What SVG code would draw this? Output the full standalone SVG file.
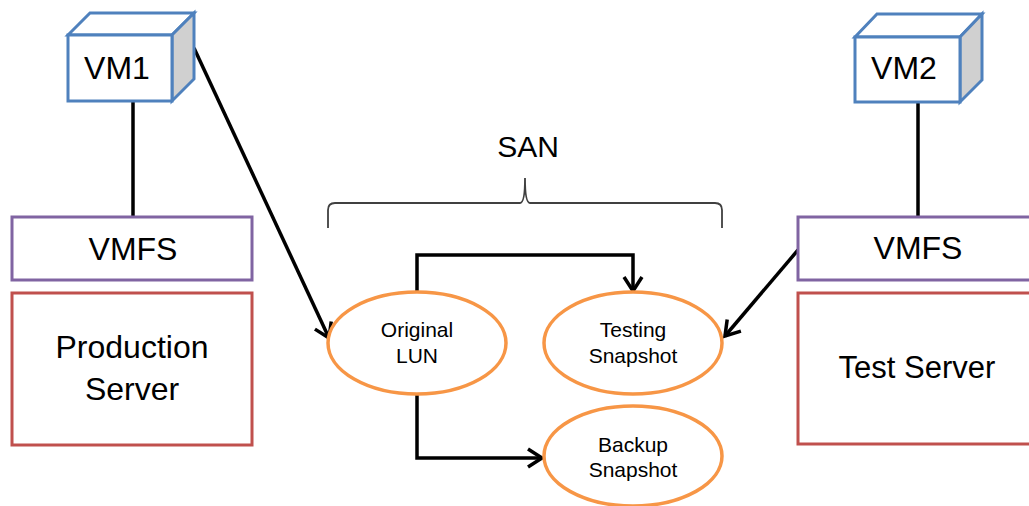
<svg xmlns="http://www.w3.org/2000/svg" width="1029" height="506" viewBox="0 0 1029 506">
<style>
.t{font-family:"Liberation Sans",Arial,sans-serif;fill:#000;text-anchor:middle}
.big{font-size:32px}
.sm{font-size:21px}
.vm{fill:#fff;stroke:#4f81bd;stroke-width:3;stroke-linejoin:miter}
.side{fill:#d0d0d0;stroke:#4f81bd;stroke-width:3}
.vmfs{fill:#fff;stroke:#8064a2;stroke-width:3}
.srv{fill:#fff;stroke:#c0504d;stroke-width:3}
.lun{fill:#fff;stroke:#f79646;stroke-width:3.5}
.c{fill:none;stroke:#000;stroke-width:3.5}
</style>
<defs>
<marker id="arr" markerUnits="userSpaceOnUse" markerWidth="24" markerHeight="24" viewBox="0 0 24 24" refX="16" refY="10" orient="auto" overflow="visible">
<path d="M2,1 L16,10 L2,19" fill="none" stroke="#000" stroke-width="3.5"/>
</marker>
</defs>
<rect width="1029" height="506" fill="#fff"/>
<g id="connectors">
<line class="c" x1="133" y1="101" x2="133" y2="217"/>
<line class="c" x1="918" y1="102" x2="918" y2="217"/>
<line class="c" x1="194" y1="48" x2="329" y2="338" marker-end="url(#arr)"/>
<line class="c" x1="798" y1="250" x2="725" y2="336" marker-end="url(#arr)"/>
<polyline class="c" points="417,292 417,255 633,255 633,291" marker-end="url(#arr)"/>
<polyline class="c" points="417,395 417,458 542,458" marker-end="url(#arr)"/>
</g>
<g id="vm1">
<polygon class="vm" points="68,35 90,13 194,13 172,35"/>
<polygon class="side" points="172,35 194,13 194,79 172,101"/>
<rect class="vm" x="68" y="35" width="104" height="66"/>
<text class="t big" x="117" y="79">VM1</text>
</g>
<g id="vm2">
<polygon class="vm" points="855,37 877,14 982,14 960,37"/>
<polygon class="side" points="960,37 982,14 982,80 960,102"/>
<rect class="vm" x="855" y="37" width="105" height="65"/>
<text class="t big" x="904" y="79">VM2</text>
</g>
<g id="vmfs-left">
<rect class="vmfs" x="12" y="217" width="240" height="63"/>
<text class="t big" x="133" y="260">VMFS</text>
</g>
<g id="production-server">
<rect class="srv" x="12" y="293" width="240" height="152"/>
<text class="t big" x="132" y="358">Production</text>
<text class="t big" x="132" y="400">Server</text>
</g>
<g id="vmfs-right">
<rect class="vmfs" x="798" y="217" width="240" height="63"/>
<text class="t big" x="918" y="259">VMFS</text>
</g>
<g id="test-server">
<rect class="srv" x="798" y="293" width="240" height="151"/>
<text class="t big" x="917" y="378" style="font-size:31px">Test Server</text>
</g>
<g id="san">
<text class="t" x="528" y="157" style="font-size:30px">SAN</text>
<path d="M328,228 L328,210 Q328,203 335,203 L520,203 Q525,203 525,178 Q525,203 530,203 L715,203 Q722,203 722,210 L722,228" fill="none" stroke="#404040" stroke-width="1.8"/>
</g>
<g id="original-lun">
<ellipse class="lun" cx="417" cy="343" rx="89" ry="51"/>
<text class="t sm" x="417" y="337">Original</text>
<text class="t sm" x="417" y="363">LUN</text>
</g>
<g id="testing-snapshot">
<ellipse class="lun" cx="633" cy="343" rx="89" ry="51"/>
<text class="t sm" x="633" y="337">Testing</text>
<text class="t sm" x="633" y="363">Snapshot</text>
</g>
<g id="backup-snapshot">
<ellipse class="lun" cx="633" cy="456" rx="89" ry="50"/>
<text class="t sm" x="633" y="452">Backup</text>
<text class="t sm" x="633" y="477">Snapshot</text>
</g>
</svg>
